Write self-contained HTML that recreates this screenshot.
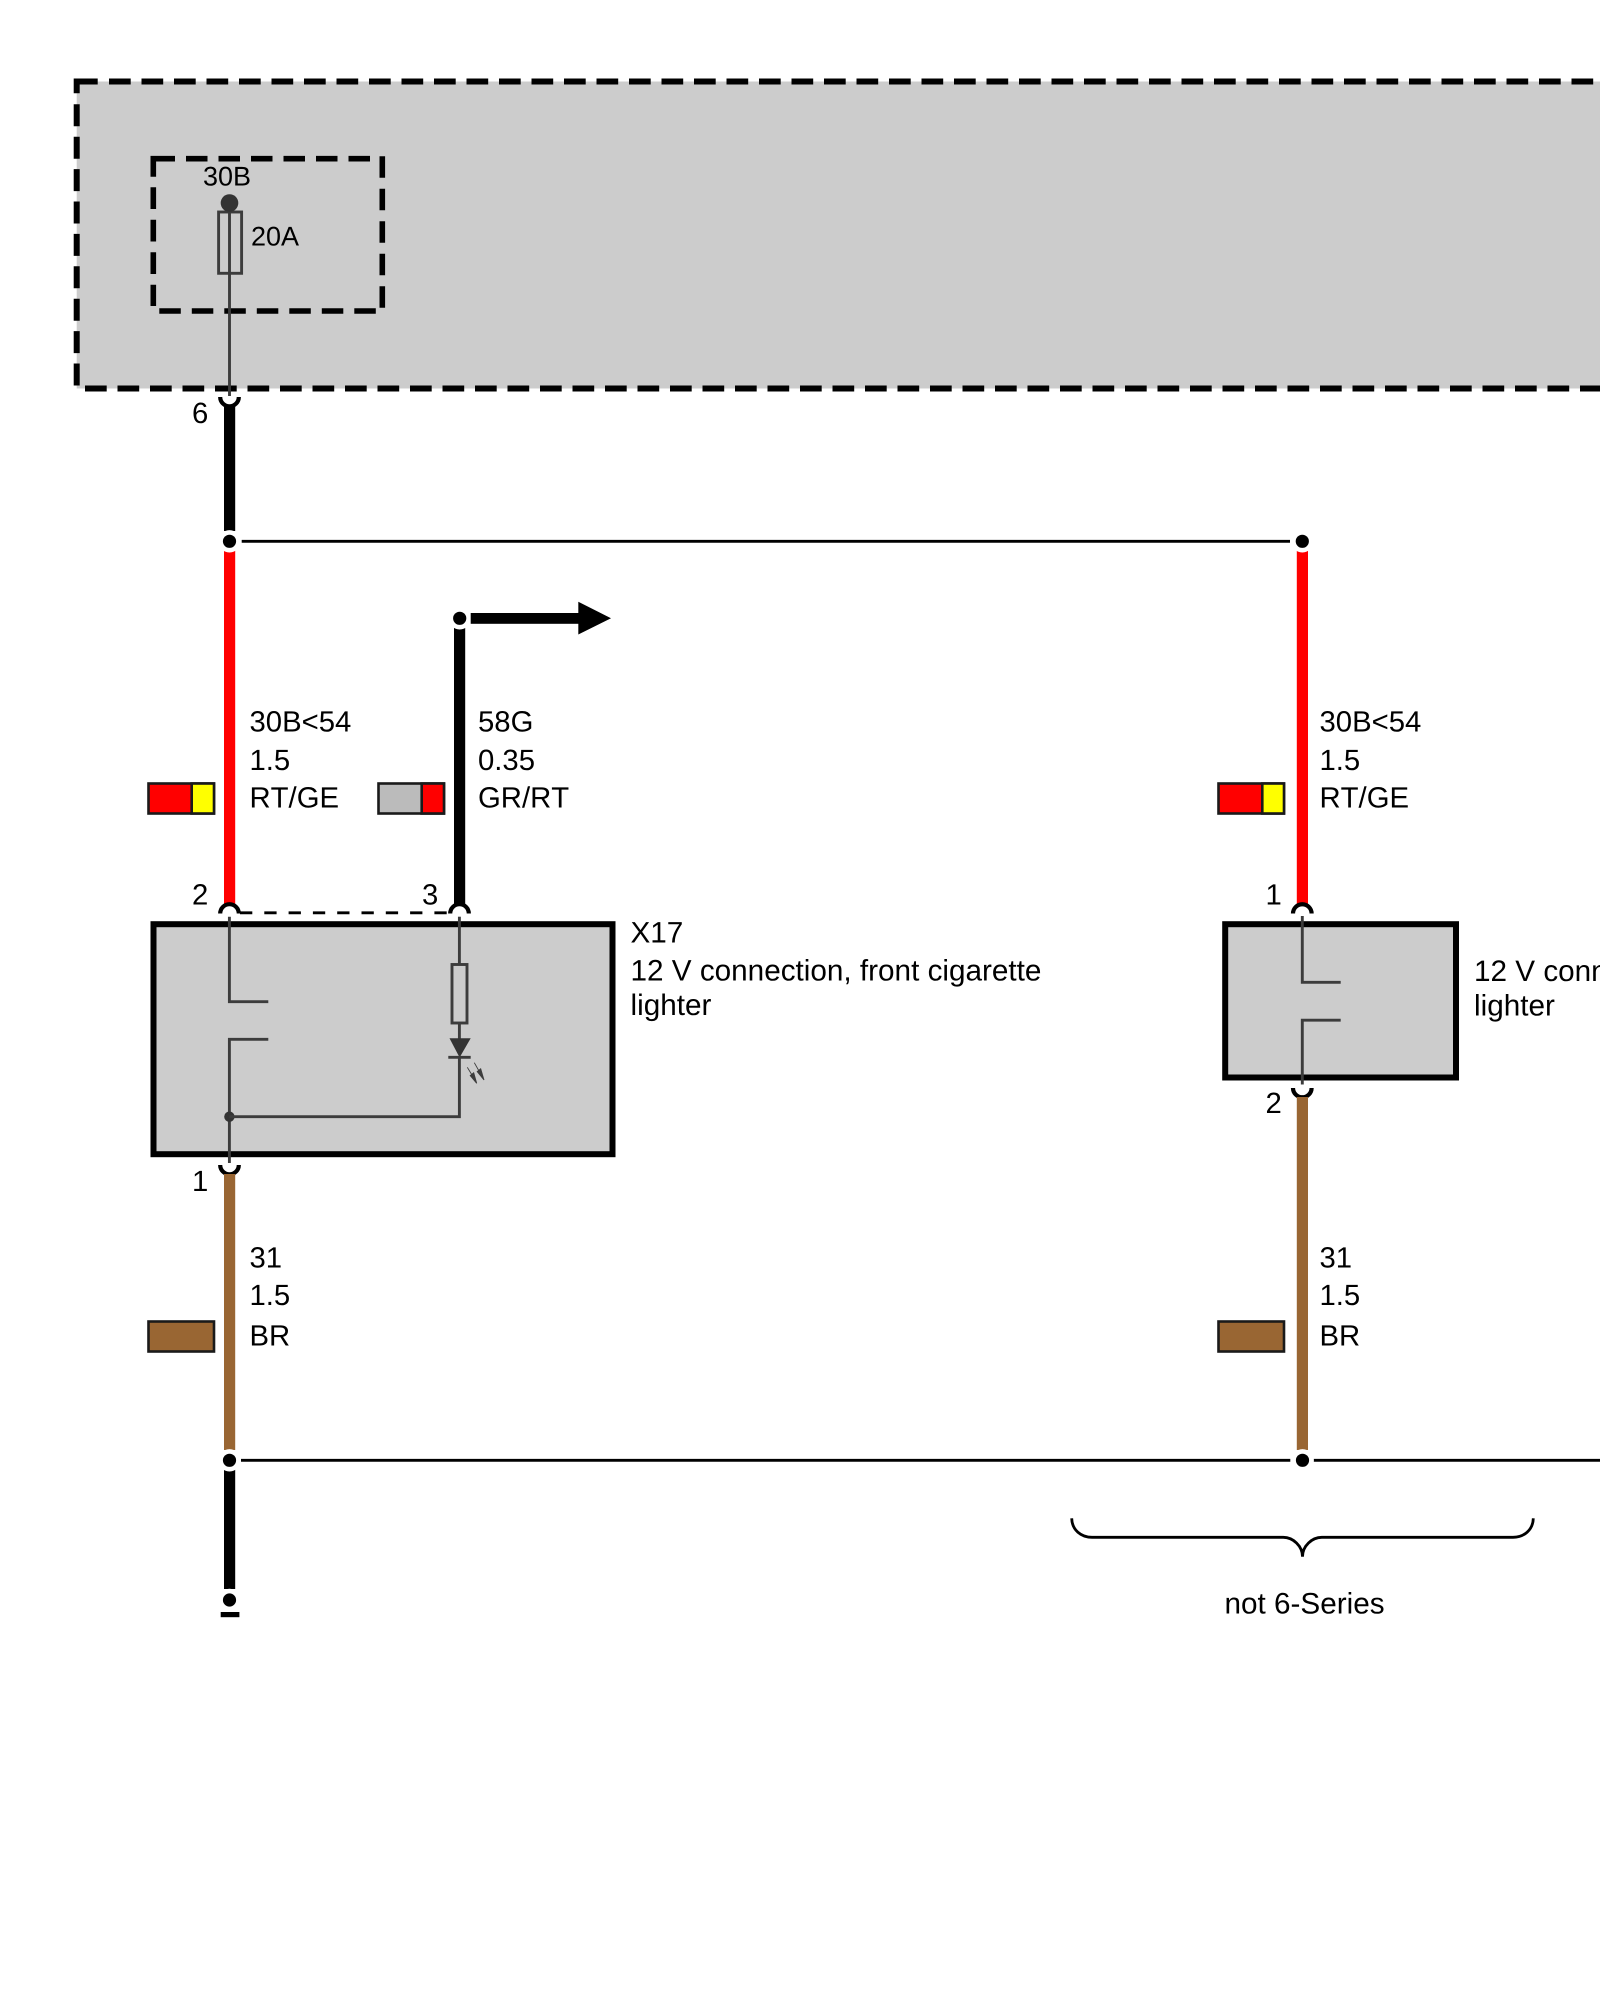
<!DOCTYPE html>
<html>
<head>
<meta charset="utf-8">
<style>
html,body{margin:0;padding:0;background:#fff;width:1600px;height:2000px;overflow:hidden}
svg{display:block}
text{font-family:"Liberation Sans",Arial,sans-serif;fill:#000;font-kerning:none;text-rendering:geometricPrecision}
.w{font-size:29.3px}
.c{font-size:29.7px}
.i{font-size:27px}
.d{stroke:#000;stroke-width:6;fill:none}
.t{stroke:#3c3c3c;stroke-width:2.9;fill:none}
.a{stroke:#000;stroke-width:4.2;fill:none}
.n{stroke:#000;stroke-width:2.8;fill:none}
.s{stroke:#1a1a1a;stroke-width:2.6}
</style>
</head>
<body>
<svg width="1600" height="2000" viewBox="0 0 1600 2000" xmlns="http://www.w3.org/2000/svg">
<rect width="1600" height="2000" fill="#fff"/>

<!-- outer module -->
<rect x="76.7" y="81.5" width="1530" height="307" fill="#ccc"/>
<polyline class="d" points="76.7,93.3 76.7,81.5 97.7,81.5"/>
<line class="d" x1="109" y1="81.5" x2="1600" y2="81.5" stroke-dasharray="21.7 10.8"/>
<line class="d" x1="76.7" y1="104.3" x2="76.7" y2="386" stroke-dasharray="22 10.4"/>
<line class="d" x1="85" y1="388.5" x2="1600" y2="388.5" stroke-dasharray="21.7 10.8"/>

<!-- inner fuse box -->
<g class="d" style="stroke-width:5.6">
<polyline points="153.3,176.7 153.3,158.7 175,158.7"/>
<line x1="186" y1="158.7" x2="380" y2="158.7" stroke-dasharray="21.5 11"/>
<line x1="382.3" y1="156.3" x2="382.3" y2="308" stroke-dasharray="21.5 11"/>
<line x1="153.3" y1="187.3" x2="153.3" y2="306" stroke-dasharray="21.7 10.8"/>
<line x1="159.3" y1="311" x2="376" y2="311" stroke-dasharray="21.5 11"/>
</g>
<rect class="t" x="218.6" y="212" width="23" height="61.3"/>
<line class="t" x1="229.5" y1="203" x2="229.5" y2="396"/>
<circle cx="229.5" cy="203" r="8.8" fill="#333"/>
<text class="i" x="203" y="185.7">30B</text>
<text class="i" x="251" y="245.7">20A</text>

<!-- connector 6 and black wire -->
<path class="a" d="M220.2 397 A9.3 9.3 0 0 0 238.8 397"/>
<rect x="224" y="405" width="11.2" height="126" fill="#000"/>
<text class="w" x="192" y="423">6</text>

<!-- top bus -->
<line class="n" x1="241.7" y1="541.3" x2="1290" y2="541.3"/>
<rect x="224" y="550" width="11.2" height="356" fill="#f00"/>
<rect x="1296.8" y="550" width="11.2" height="356" fill="#f00"/>
<circle cx="229.5" cy="541.3" r="11.2" fill="#fff"/>
<circle cx="229.5" cy="541.3" r="6.6" fill="#000"/>
<circle cx="1302.3" cy="541.3" r="11.2" fill="#fff"/>
<circle cx="1302.3" cy="541.3" r="6.6" fill="#000"/>

<!-- 58G wire and arrow -->
<rect x="454" y="626" width="11.2" height="280" fill="#000"/>
<circle cx="459.7" cy="618.3" r="11.2" fill="#fff"/>
<circle cx="459.7" cy="618.3" r="6.6" fill="#000"/>
<rect x="470.7" y="613" width="110" height="10.8" fill="#000"/>
<polygon points="578.3,601.7 611,618.3 578.3,634.5" fill="#000"/>

<!-- wire labels -->
<text class="w" x="249.5" y="731.7">30B&lt;54</text>
<text class="w" x="249.5" y="770">1.5</text>
<text class="w" x="249.5" y="807.7">RT/GE</text>
<text class="w" x="478" y="731.7">58G</text>
<text class="w" x="478" y="770">0.35</text>
<text class="w" x="478" y="807.7">GR/RT</text>
<text class="w" x="1319.5" y="731.7">30B&lt;54</text>
<text class="w" x="1319.5" y="770">1.5</text>
<text class="w" x="1319.5" y="807.7">RT/GE</text>

<!-- swatches -->
<rect class="s" x="148.5" y="783.5" width="65.5" height="30" fill="#f00"/>
<rect class="s" x="191.7" y="783.5" width="22.3" height="30" fill="#ff0"/>
<rect class="s" x="378.5" y="783.5" width="65.5" height="30" fill="#bbb"/>
<rect class="s" x="421.7" y="783.5" width="22.3" height="30" fill="#f00"/>
<rect class="s" x="1218.5" y="783.5" width="65.5" height="30" fill="#f00"/>
<rect class="s" x="1262.3" y="783.5" width="21.7" height="30" fill="#ff0"/>
<rect class="s" x="148.5" y="1321.5" width="65.5" height="30" fill="#963"/>
<rect class="s" x="1218.5" y="1321.5" width="65.5" height="30" fill="#963"/>

<!-- X17 box -->
<rect x="153.5" y="924.2" width="459" height="230" fill="#ccc" stroke="#000" stroke-width="6"/>
<line x1="240" y1="912.8" x2="450" y2="912.8" stroke="#000" stroke-width="2.8" stroke-dasharray="12.3 12"/>
<path class="a" d="M220.2 913.5 A9.3 9.3 0 0 1 238.8 913.5"/>
<path class="a" d="M450.2 913.5 A9.3 9.3 0 0 1 468.8 913.5"/>
<path class="t" d="M229.4 916.7 V1001.7 H268.3"/>
<path class="t" d="M268.3 1039.3 H229.4 V1163"/>
<circle cx="229.4" cy="1116.7" r="5.2" fill="#333"/>
<path class="t" d="M229.4 1116.7 H459.4 V1057"/>
<line class="t" x1="459.4" y1="916.7" x2="459.4" y2="964"/>
<rect class="t" x="452" y="964.5" width="15" height="58.5"/>
<line class="t" x1="459.4" y1="1023" x2="459.4" y2="1040"/>
<polygon points="449.5,1038.3 470.7,1038.3 459.6,1057.5" fill="#333"/>
<line class="t" x1="448.3" y1="1057.3" x2="470.7" y2="1057.3"/>
<g stroke="#3c3c3c" stroke-width="0.9" fill="#3c3c3c">
<line x1="467.3" y1="1067.3" x2="472" y2="1075"/>
<polygon points="470.2,1075.6 473.7,1072.8 476.7,1083.3"/>
<line x1="474.3" y1="1062.7" x2="479" y2="1071"/>
<polygon points="477.2,1071.6 480.7,1068.8 484,1080"/>
</g>
<path class="a" d="M220.2 1165 A9.3 9.3 0 0 0 238.8 1165"/>
<text class="w" x="192" y="904.3">2</text>
<text class="w" x="422" y="904.3">3</text>
<text class="w" x="192" y="1191">1</text>
<text class="c" x="630.5" y="942.7">X17</text>
<text class="c" x="630.5" y="980.7">12 V connection, front cigarette</text>
<text class="c" x="630.5" y="1015">lighter</text>

<!-- right box -->
<rect x="1225.2" y="924.2" width="230.8" height="153.3" fill="#ccc" stroke="#000" stroke-width="6"/>
<path class="a" d="M1293 913.5 A9.3 9.3 0 0 1 1311.6 913.5"/>
<path class="t" d="M1302.3 916 V982.3 H1340.7"/>
<path class="t" d="M1340.7 1020.2 H1302.3 V1084.5"/>
<path class="a" d="M1293 1088 A9.3 9.3 0 0 0 1311.6 1088"/>
<text class="w" x="1265.5" y="904.5">1</text>
<text class="w" x="1265.5" y="1113">2</text>
<text class="c" x="1474" y="981">12 V connection, front cigarette</text>
<text class="c" x="1474" y="1015.5">lighter</text>

<!-- brown wires -->
<rect x="224" y="1174" width="11.2" height="276" fill="#963"/>
<rect x="1296.8" y="1097" width="11.2" height="353" fill="#963"/>
<text class="w" x="249.5" y="1267.5">31</text>
<text class="w" x="249.5" y="1305">1.5</text>
<text class="w" x="249.5" y="1345.5">BR</text>
<text class="w" x="1319.5" y="1267.5">31</text>
<text class="w" x="1319.5" y="1305">1.5</text>
<text class="w" x="1319.5" y="1345.5">BR</text>

<!-- bottom bus and ground -->
<line class="n" x1="241" y1="1460.3" x2="1290.3" y2="1460.3"/>
<line class="n" x1="1313.8" y1="1460.3" x2="1600" y2="1460.3"/>
<rect x="224" y="1465" width="11.2" height="124" fill="#000"/>
<circle cx="229.5" cy="1460.3" r="11.2" fill="#fff"/>
<circle cx="229.5" cy="1460.3" r="6.6" fill="#000"/>
<circle cx="1302.5" cy="1460.3" r="11.2" fill="#fff"/>
<circle cx="1302.5" cy="1460.3" r="6.6" fill="#000"/>
<circle cx="229.5" cy="1600" r="11.2" fill="#fff"/>
<circle cx="229.5" cy="1600" r="6.6" fill="#000"/>
<rect x="220.7" y="1612" width="18.7" height="5.2" fill="#000"/>

<!-- brace -->
<path class="n" d="M1071.7 1518.3 C1072 1530 1081 1537.3 1092 1537.3 H1283.3 C1293 1537.3 1302.5 1546 1302.5 1556.7 C1302.5 1546 1312 1537.3 1321.8 1537.3 H1513 C1524 1537.3 1533 1530 1533.3 1518.3"/>
<text class="c" x="1224.5" y="1613.3">not 6-Series</text>
</svg>
</body>
</html>
